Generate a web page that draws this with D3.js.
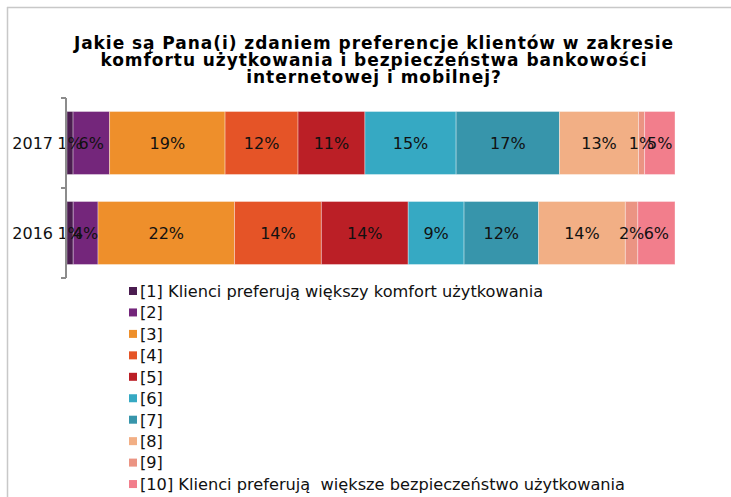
<!DOCTYPE html>
<html>
<head>
<meta charset="utf-8">
<script src="https://cdn.jsdelivr.net/npm/d3@7"></script>
<style>
  html, body { margin: 0; padding: 0; background: #fff; }
  svg { display: block; }
</style>
</head>
<body>
<svg id="chart" width="731" height="497"></svg>
<script>
// Survey answers on a 1..10 scale: comfort (1) vs. security (10)
const years = ["2017", "2016"];
const answers = ["[1] Klienci preferują większy komfort użytkowania", "[2]", "[3]", "[4]", "[5]", "[6]", "[7]", "[8]", "[9]", "[10] Klienci preferują  większe bezpieczeństwo użytkowania"];
const values2017 = [1, 6, 19, 12, 11, 15, 17, 13, 1, 5];
const values2016 = [1, 4, 22, 14, 14, 9, 12, 14, 2, 6];
const colors = ["#4b1d50", "#74267b", "#ee8f2b", "#e55427", "#bb1f26", "#36a9c3", "#3795ab", "#f2af85", "#eb9483", "#f27e8c"];
const titleLines = [
  "Jakie są Pana(i) zdaniem preferencje klientów w zakresie",
  "komfortu użytkowania i bezpieczeństwa bankowości",
  "internetowej i mobilnej?"
];

const rows = [values2017, values2016];
const font = "'DejaVu Sans', Verdana, sans-serif";

const svg = d3.select("#chart");

// outer frame (top and left edges)
svg.append("line").attr("x1", 7).attr("x2", 731).attr("y1", 7.5).attr("y2", 7.5)
  .attr("stroke", "#c8c8c8").attr("stroke-width", 1.5);
svg.append("line").attr("x1", 7.5).attr("x2", 7.5).attr("y1", 7).attr("y2", 497)
  .attr("stroke", "#c8c8c8").attr("stroke-width", 1.5);

// title
const title = svg.append("text")
  .attr("text-anchor", "middle")
  .attr("font-family", font)
  .attr("font-weight", "bold")
  .attr("font-size", 17)
  .attr("letter-spacing", "0.95px")
  .attr("fill", "#000");
titleLines.forEach((t, i) => {
  title.append("tspan").attr("x", 374).attr("y", 48.5 + i * 17).text(t);
});

// plot area
const plot = { left: 67, right: 675, top: 98, bottom: 278 };

const y = d3.scaleBand().domain(years).range([plot.top, plot.bottom]).paddingInner(0.3).paddingOuter(0.15);

rows.forEach((vals, ri) => {
  const total = d3.sum(vals);
  const x = d3.scaleLinear().domain([0, total]).range([plot.left, plot.right]);
  const starts = d3.cumsum([0, ...vals]);
  const g = svg.append("g");
  const yy = y(years[ri]);
  g.selectAll("rect").data(vals).join("rect")
    .attr("x", (d, i) => x(starts[i]))
    .attr("width", d => x(d) - x(0))
    .attr("y", yy)
    .attr("height", y.bandwidth())
    .attr("fill", (d, i) => colors[i])
    .attr("stroke", "rgba(255,255,255,0.35)")
    .attr("stroke-width", 1);
  g.selectAll("text").data(vals).join("text")
    .attr("x", (d, i) => x(starts[i] + d / 2))
    .attr("y", yy + y.bandwidth() / 2)
    .attr("dy", "0.36em")
    .attr("text-anchor", "middle")
    .attr("font-family", font)
    .attr("font-size", 16)
    .attr("fill", "#111")
    .text(d => d + "%");
});

// category axis with ticks at band boundaries
const axisG = svg.append("g").attr("stroke", "#8c8c8c").attr("stroke-width", 2);
axisG.append("line").attr("x1", 66).attr("x2", 66).attr("y1", plot.top).attr("y2", plot.bottom);
const boundaries = [plot.top, (y(years[0]) + y.bandwidth() + y(years[1])) / 2, plot.bottom];
axisG.selectAll(".tick").data(boundaries).join("line")
  .attr("class", "tick")
  .attr("x1", 61).attr("x2", 66)
  .attr("y1", d => d).attr("y2", d => d);

svg.append("g").selectAll("text").data(years).join("text")
  .attr("x", 53)
  .attr("y", d => y(d) + y.bandwidth() / 2)
  .attr("dy", "0.36em")
  .attr("text-anchor", "end")
  .attr("font-family", font)
  .attr("font-size", 16)
  .attr("fill", "#111")
  .text(d => d);

// legend
const legend = svg.append("g");
const lg = legend.selectAll("g").data(answers).join("g")
  .attr("transform", (d, i) => `translate(129, ${291 + i * 21.45})`);
lg.append("rect").attr("x", 0).attr("y", -4).attr("width", 8).attr("height", 8)
  .attr("fill", (d, i) => colors[i]);
lg.append("text").attr("x", 11).attr("dy", "0.36em")
  .attr("font-family", font).attr("font-size", 16.2).attr("fill", "#111")
  .style("white-space", "pre")
  .text(d => d);
</script>
</body>
</html>
